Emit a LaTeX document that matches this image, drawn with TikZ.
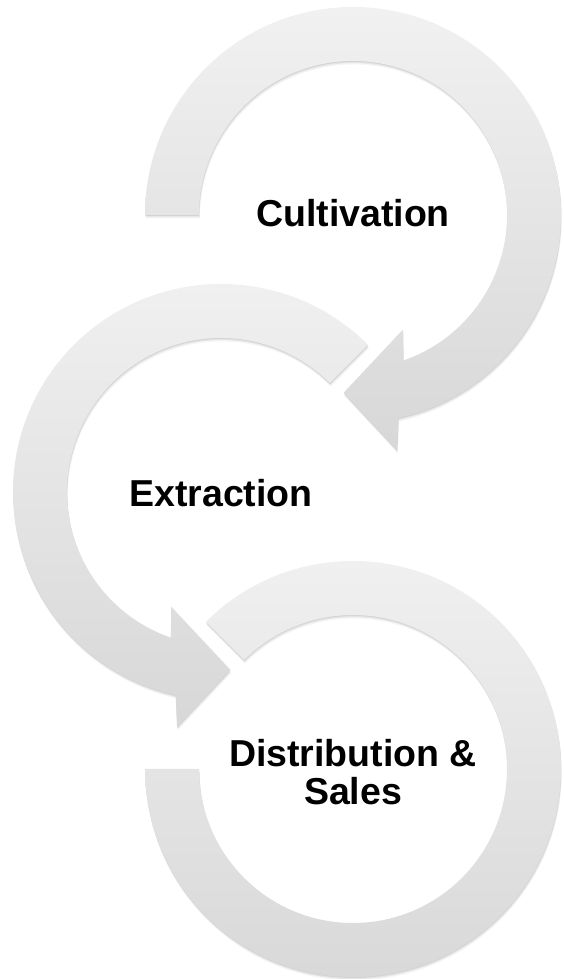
\documentclass[tikz,border=0pt]{standalone}
\usepackage{fontspec}
\setmainfont{Liberation Sans}
\begin{document}
\begin{tikzpicture}[x=1pt,y=1pt,
  ringshadow/.style={
    preaction={fill=black, fill opacity=0.04, transform canvas={xshift=0.8pt,yshift=-3.5pt}},
    preaction={fill=black, fill opacity=0.06, transform canvas={xshift=0.5pt,yshift=-2.2pt}},
    preaction={fill=black, fill opacity=0.08, transform canvas={xshift=0.2pt,yshift=-1pt}}},
  ringfill/.style={top color=gray!11, bottom color=gray!31, ringshadow},
  label/.style={font=\fontsize{37.5}{38}\selectfont\bfseries, align=center, text=black}]
\useasboundingbox (0,0) rectangle (564,979);
\fill[white] (0,0) rectangle (564,979);
\coordinate (c1) at (353,764);
\coordinate (c2) at (221,487);
\coordinate (c3) at (353,210);
% ring 1 : Cultivation
\begin{scope}[shift={(c1)}]
  \path[ringfill] (180:208) arc[start angle=180, end angle=-77.4, radius=208]
    -- (-79.4:239) -- (-93:178) -- (-66.5:125) -- (-71:154)
    arc[start angle=-71, end angle=180, radius=154] -- cycle;
\end{scope}
% ring 2 : Extraction
\begin{scope}[shift={(c2)}]
  \path[ringfill] (45:208) arc[start angle=45, end angle=257.4, radius=208]
    -- (259.4:239) -- (273:178) -- (246.5:125) -- (251:154)
    arc[start angle=251, end angle=45, radius=154] -- cycle;
\end{scope}
% ring 3 : Distribution & Sales
\begin{scope}[shift={(c3)}]
  \path[ringfill] (135:208) arc[start angle=135, end angle=-180, radius=208]
    -- (180:154) arc[start angle=-180, end angle=135, radius=154] -- cycle;
\end{scope}
\node[label] (t1) at ([yshift=2pt]c1) {Cultivation};
\node[label] (t2) at ([yshift=-1pt]c2) {Extraction};
\node[label] (t3) at ([yshift=-3pt]c3) {Distribution \&\\Sales};
\end{tikzpicture}
\end{document}
